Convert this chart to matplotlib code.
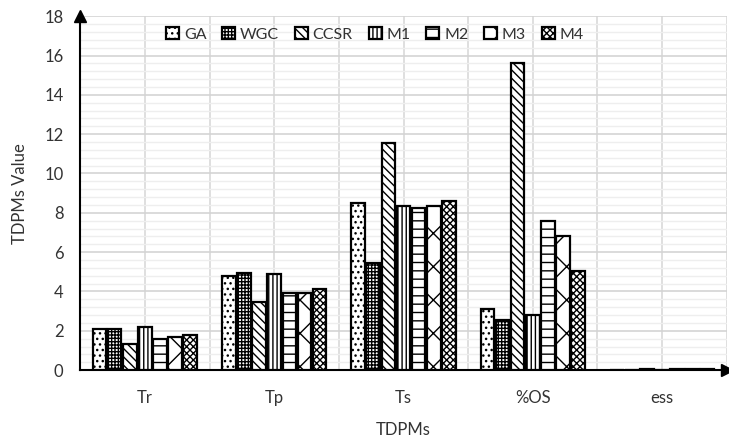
"""Grouped bar chart of TDPMs for the compared methods"""
import matplotlib.pyplot as plt
import numpy as np

plt.rcParams['font.family'] = ['Lato', 'DejaVu Sans']
plt.rcParams['hatch.linewidth'] = 1.0

# data
categories = ['Tr', 'Tp', 'Ts', '%OS', 'ess']
methods = ['GA', 'WGC', 'CCSR', 'M1', 'M2', 'M3', 'M4']
ga = [2.1, 4.8, 8.5, 3.1, 0.0]
wgc = [2.1, 4.95, 5.45, 2.55, 0.0]
ccsr = [1.35, 3.45, 11.55, 15.6, 0.05]
m1 = [2.2, 4.9, 8.35, 2.8, 0.0]
m2 = [1.6, 3.9, 8.25, 7.6, 0.05]
m3 = [1.7, 3.9, 8.35, 6.8, 0.05]
m4 = [1.8, 4.1, 8.6, 5.05, 0.05]
series = [ga, wgc, ccsr, m1, m2, m3, m4]
hatches = ['...', '+++++', '\\\\\\\\', '||||', '--', 'x', 'xxxxx']

fig = plt.figure(figsize=(7.29, 4.38), dpi=100)
ax = fig.add_axes([0.11, 0.155, 0.887, 0.808])

x = np.arange(len(categories))
slot = 0.117
for i, (name, vals) in enumerate(zip(methods, series)):
    pos = x + (i - 3) * slot
    ax.bar(pos, vals, width=0.105, facecolor='white', edgecolor='black',
           linewidth=1.6, hatch=hatches[i], label=name, zorder=3)

ax.set_xlim(-0.5, 4.44)
ax.set_ylim(0, 18)
ax.set_yticks(np.arange(0, 19, 2))
ax.set_yticks(np.arange(0, 18.01, 0.4), minor=True)
ax.set_xticks(x)
ax.set_xticklabels(categories)
ax.set_xticks(np.arange(-0.5, 5, 1), minor=True)

ax.grid(axis='y', which='major', color='#d4d4d4', linewidth=1.2, zorder=0)
ax.grid(axis='y', which='minor', color='#eeeeee', linewidth=1.0, zorder=0)
ax.grid(axis='x', which='both', color='#d9d9d9', linewidth=1.2, zorder=0)
ax.tick_params(which='both', length=0)
ax.tick_params(axis='y', labelsize=12, colors='#333333', pad=12)
ax.tick_params(axis='x', labelsize=12, colors='#333333', pad=14)

for side in ['top', 'right']:
    ax.spines[side].set_visible(False)
ax.spines['left'].set_linewidth(1.5)
ax.spines['bottom'].set_linewidth(1.5)
# arrow heads on the axes
ax.plot(0, 1, marker='^', color='black', markersize=8, transform=ax.transAxes, clip_on=False, zorder=5)
ax.plot(1, 0, marker='>', color='black', markersize=8, transform=ax.transAxes, clip_on=False, zorder=5)

ax.set_xlabel('TDPMs', fontsize=12, color='#333333', labelpad=12)
ax.set_ylabel('TDPMs Value', fontsize=12, color='#333333', labelpad=12)

leg = ax.legend(loc='upper center', bbox_to_anchor=(0.456, 1.01), ncol=7, frameon=False,
                fontsize=11.5, handlelength=0.8, handleheight=0.8, handletextpad=0.3,
                columnspacing=1.0)
for t in leg.get_texts():
    t.set_color('#333333')

plt.savefig('out.png', dpi=100)
